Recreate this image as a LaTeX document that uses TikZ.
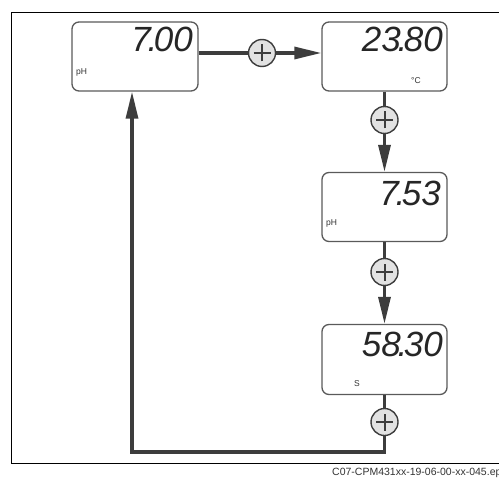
\documentclass[tikz,border=0pt]{standalone}
\usepackage{fontspec}
\setmainfont{Liberation Sans}
\usetikzlibrary{arrows.meta}
\definecolor{conn}{HTML}{3D3D3D}
\definecolor{boxc}{HTML}{5A5A5A}
\definecolor{circf}{HTML}{E2E2E2}
\newcommand{\lcddot}{\makebox[3bp][c]{.}}
\tikzset{
  dispbox/.style={draw=boxc, line width=1.3bp, fill=white, rounded corners=7bp,
    minimum width=125bp, minimum height=69bp, inner sep=0pt},
  lcd/.style={anchor=base east, inner sep=0pt, text=black!85,
    font=\fontsize{35bp}{35bp}\selectfont\itshape},
  unitlbl/.style={anchor=base west, inner sep=0pt, text=black!80,
    font=\fontsize{8.5bp}{10bp}\selectfont},
  plusc/.style={circle, draw=conn, fill=circf, line width=1.4bp,
    minimum size=27bp, inner sep=0pt,
    path picture={\draw[conn, line width=2bp]
      ([xshift=-8.5bp]path picture bounding box.center) -- ([xshift=8.5bp]path picture bounding box.center)
      ([yshift=-8.5bp]path picture bounding box.center) -- ([yshift=8.5bp]path picture bounding box.center);}},
  connline/.style={draw=conn, line width=3.3bp},
  tip/.style={-{Triangle[length=27bp,width=12bp]}}
}
\begin{document}
\begin{tikzpicture}[x=1bp,y=-1bp]
\useasboundingbox (0,0) rectangle (499,478);
\draw[line width=1bp] (11,12.5) rectangle (506,463.5);
% displays
\node[dispbox, minimum width=126bp] (d1) at (135,56.5) {};
\node[dispbox] (d2) at (384.5,56.5) {};
\node[dispbox] (d3) at (384.5,207) {};
\node[dispbox, minimum height=70bp] (d4) at (384.5,359.5) {};
% values
\node[lcd] (v1) at (193,52) {7\lcddot00};
\node[lcd] (v2) at (443,52) {23\lcddot80};
\node[lcd] (v3) at (441,205) {7\lcddot53};
\node[lcd] (v4) at (443,356) {58\lcddot30};
% units
\node[unitlbl] (u1) at (76,74.5) {pH};
\node[unitlbl] (u2) at (411,84) {°C};
\node[unitlbl] (u3) at (326,225) {pH};
\node[unitlbl] (u4) at (354,386.5) {S};
% plus keys
\node[plusc] (c1) at (262,53) {};
\node[plusc] (c2) at (384.5,120) {};
\node[plusc] (c3) at (384.5,272) {};
\node[plusc] (c4) at (384.5,422) {};
\coordinate (bl) at (132,452);
% connectors
\draw[connline] (c1 -| d1.east) -- (c1);
\draw[connline, tip] (c1) -- (c1 -| d2.west);
\draw[connline] (d2.south) -- (c2);
\draw[connline, tip] (c2) -- (d3.north);
\draw[connline] (d3.south) -- (c3);
\draw[connline, tip] (c3) -- (d4.north);
\draw[connline] (d4.south) -- (c4);
\draw[connline, tip] (c4) |- (bl) -- (bl |- d1.south);
% caption
\node[anchor=base west, inner sep=0pt, text=black!80, font=\fontsize{10.5bp}{12bp}\selectfont] (cap) at (332,475) {C07-CPM431xx-19-06-00-xx-045.eps};
\end{tikzpicture}
\end{document}
